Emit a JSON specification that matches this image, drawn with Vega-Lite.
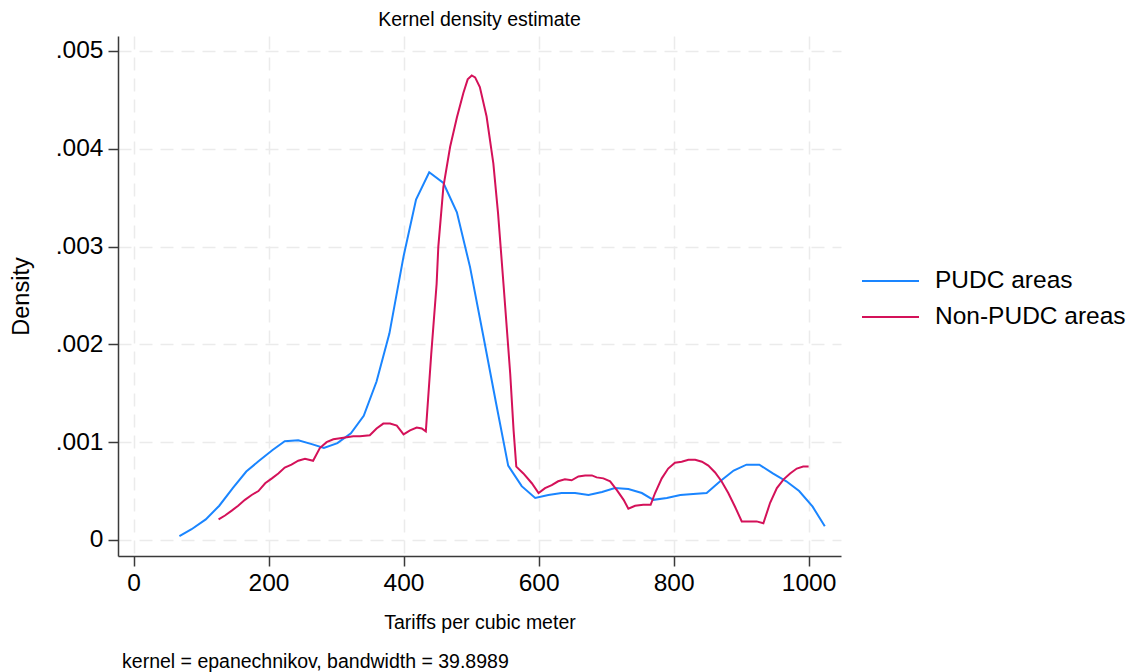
{
  "$schema": "https://vega.github.io/schema/vega-lite/v6.json",
  "width": 723,
  "height": 520,
  "autosize": {"type": "none"},
  "padding": {"left": 118, "top": 36, "right": 297, "bottom": 116},
  "background": "white",
  "config": {
    "font": "Liberation Sans",
    "view": {"stroke": null},
    "axis": {
      "domainColor": "#3a3a3a",
      "domainWidth": 1.5,
      "tickColor": "#3a3a3a",
      "tickWidth": 1.5,
      "tickSize": 10,
      "labelColor": "black",
      "titleColor": "black",
      "titleFontWeight": "normal",
      "gridColor": "#ebebeb",
      "gridWidth": 1.5,
      "gridDash": [13, 8]
    }
  },
  "title": {
    "text": "Kernel density estimate",
    "fontSize": 19.5,
    "fontWeight": "normal",
    "color": "black",
    "anchor": "middle",
    "frame": "group",
    "offset": 6
  },
  "layer": [
    {
      "data": {
        "values": [
          {"x": 68, "density": 0.00004, "group": "PUDC areas"},
          {"x": 86, "density": 0.00011, "group": "PUDC areas"},
          {"x": 107, "density": 0.00021, "group": "PUDC areas"},
          {"x": 127, "density": 0.00035, "group": "PUDC areas"},
          {"x": 147, "density": 0.00053, "group": "PUDC areas"},
          {"x": 167, "density": 0.0007, "group": "PUDC areas"},
          {"x": 186, "density": 0.00081, "group": "PUDC areas"},
          {"x": 206, "density": 0.00092, "group": "PUDC areas"},
          {"x": 224, "density": 0.00101, "group": "PUDC areas"},
          {"x": 244, "density": 0.00102, "group": "PUDC areas"},
          {"x": 264, "density": 0.00098, "group": "PUDC areas"},
          {"x": 282, "density": 0.00094, "group": "PUDC areas"},
          {"x": 302, "density": 0.00099, "group": "PUDC areas"},
          {"x": 322, "density": 0.00109, "group": "PUDC areas"},
          {"x": 341, "density": 0.00127, "group": "PUDC areas"},
          {"x": 360, "density": 0.00162, "group": "PUDC areas"},
          {"x": 379, "density": 0.00211, "group": "PUDC areas"},
          {"x": 400, "density": 0.0029, "group": "PUDC areas"},
          {"x": 418.5, "density": 0.00348, "group": "PUDC areas"},
          {"x": 438, "density": 0.00376, "group": "PUDC areas"},
          {"x": 459, "density": 0.00365, "group": "PUDC areas"},
          {"x": 479, "density": 0.00335, "group": "PUDC areas"},
          {"x": 498.5, "density": 0.00279, "group": "PUDC areas"},
          {"x": 518, "density": 0.00209, "group": "PUDC areas"},
          {"x": 537, "density": 0.0014, "group": "PUDC areas"},
          {"x": 555, "density": 0.00076, "group": "PUDC areas"},
          {"x": 575, "density": 0.00055, "group": "PUDC areas"},
          {"x": 595, "density": 0.00043, "group": "PUDC areas"},
          {"x": 614.5, "density": 0.00046, "group": "PUDC areas"},
          {"x": 634, "density": 0.00048, "group": "PUDC areas"},
          {"x": 654, "density": 0.00048, "group": "PUDC areas"},
          {"x": 674, "density": 0.00046, "group": "PUDC areas"},
          {"x": 694, "density": 0.00049, "group": "PUDC areas"},
          {"x": 713, "density": 0.00053, "group": "PUDC areas"},
          {"x": 733, "density": 0.00052, "group": "PUDC areas"},
          {"x": 753, "density": 0.00048, "group": "PUDC areas"},
          {"x": 770, "density": 0.00041, "group": "PUDC areas"},
          {"x": 790, "density": 0.00043, "group": "PUDC areas"},
          {"x": 810, "density": 0.00046, "group": "PUDC areas"},
          {"x": 829, "density": 0.00047, "group": "PUDC areas"},
          {"x": 849, "density": 0.00048, "group": "PUDC areas"},
          {"x": 869, "density": 0.0006, "group": "PUDC areas"},
          {"x": 889, "density": 0.00071, "group": "PUDC areas"},
          {"x": 908, "density": 0.00077, "group": "PUDC areas"},
          {"x": 927, "density": 0.00077, "group": "PUDC areas"},
          {"x": 947, "density": 0.00068, "group": "PUDC areas"},
          {"x": 967, "density": 0.0006, "group": "PUDC areas"},
          {"x": 986, "density": 0.0005, "group": "PUDC areas"},
          {"x": 1006, "density": 0.00034, "group": "PUDC areas"},
          {"x": 1024, "density": 0.00014, "group": "PUDC areas"},
          {"x": 126, "density": 0.00021, "group": "Non-PUDC areas"},
          {"x": 135.5, "density": 0.00025, "group": "Non-PUDC areas"},
          {"x": 145.5, "density": 0.0003, "group": "Non-PUDC areas"},
          {"x": 155, "density": 0.00035, "group": "Non-PUDC areas"},
          {"x": 165, "density": 0.00041, "group": "Non-PUDC areas"},
          {"x": 175, "density": 0.00046, "group": "Non-PUDC areas"},
          {"x": 185, "density": 0.0005, "group": "Non-PUDC areas"},
          {"x": 195, "density": 0.00058, "group": "Non-PUDC areas"},
          {"x": 205, "density": 0.00063, "group": "Non-PUDC areas"},
          {"x": 214.5, "density": 0.00068, "group": "Non-PUDC areas"},
          {"x": 224, "density": 0.00074, "group": "Non-PUDC areas"},
          {"x": 234, "density": 0.00077, "group": "Non-PUDC areas"},
          {"x": 244, "density": 0.00081, "group": "Non-PUDC areas"},
          {"x": 254, "density": 0.00083, "group": "Non-PUDC areas"},
          {"x": 266, "density": 0.00081, "group": "Non-PUDC areas"},
          {"x": 276, "density": 0.00094, "group": "Non-PUDC areas"},
          {"x": 286, "density": 0.001, "group": "Non-PUDC areas"},
          {"x": 296, "density": 0.00103, "group": "Non-PUDC areas"},
          {"x": 306, "density": 0.00104, "group": "Non-PUDC areas"},
          {"x": 316, "density": 0.00105, "group": "Non-PUDC areas"},
          {"x": 325.5, "density": 0.00106, "group": "Non-PUDC areas"},
          {"x": 335.5, "density": 0.00106, "group": "Non-PUDC areas"},
          {"x": 350, "density": 0.00107, "group": "Non-PUDC areas"},
          {"x": 360, "density": 0.00114, "group": "Non-PUDC areas"},
          {"x": 370, "density": 0.00119, "group": "Non-PUDC areas"},
          {"x": 380, "density": 0.00119, "group": "Non-PUDC areas"},
          {"x": 390, "density": 0.00117, "group": "Non-PUDC areas"},
          {"x": 400, "density": 0.00108, "group": "Non-PUDC areas"},
          {"x": 409.6, "density": 0.00112, "group": "Non-PUDC areas"},
          {"x": 419.5, "density": 0.00115, "group": "Non-PUDC areas"},
          {"x": 427, "density": 0.00114, "group": "Non-PUDC areas"},
          {"x": 433, "density": 0.00111, "group": "Non-PUDC areas"},
          {"x": 441, "density": 0.0019, "group": "Non-PUDC areas"},
          {"x": 449, "density": 0.00262, "group": "Non-PUDC areas"},
          {"x": 451.5, "density": 0.003, "group": "Non-PUDC areas"},
          {"x": 459, "density": 0.00361, "group": "Non-PUDC areas"},
          {"x": 469, "density": 0.00402, "group": "Non-PUDC areas"},
          {"x": 479, "density": 0.00432, "group": "Non-PUDC areas"},
          {"x": 488.6, "density": 0.00457, "group": "Non-PUDC areas"},
          {"x": 495, "density": 0.00471, "group": "Non-PUDC areas"},
          {"x": 501, "density": 0.00475, "group": "Non-PUDC areas"},
          {"x": 506, "density": 0.00473, "group": "Non-PUDC areas"},
          {"x": 513, "density": 0.00463, "group": "Non-PUDC areas"},
          {"x": 523, "density": 0.00433, "group": "Non-PUDC areas"},
          {"x": 533, "density": 0.00385, "group": "Non-PUDC areas"},
          {"x": 540, "density": 0.00334, "group": "Non-PUDC areas"},
          {"x": 548, "density": 0.00262, "group": "Non-PUDC areas"},
          {"x": 558, "density": 0.0017, "group": "Non-PUDC areas"},
          {"x": 563, "density": 0.00112, "group": "Non-PUDC areas"},
          {"x": 567, "density": 0.00075, "group": "Non-PUDC areas"},
          {"x": 577.5, "density": 0.00068, "group": "Non-PUDC areas"},
          {"x": 590, "density": 0.00058, "group": "Non-PUDC areas"},
          {"x": 600, "density": 0.00048, "group": "Non-PUDC areas"},
          {"x": 609.6, "density": 0.00053, "group": "Non-PUDC areas"},
          {"x": 619.5, "density": 0.00056, "group": "Non-PUDC areas"},
          {"x": 629, "density": 0.0006, "group": "Non-PUDC areas"},
          {"x": 639, "density": 0.00062, "group": "Non-PUDC areas"},
          {"x": 649, "density": 0.00061, "group": "Non-PUDC areas"},
          {"x": 659, "density": 0.00065, "group": "Non-PUDC areas"},
          {"x": 669, "density": 0.00066, "group": "Non-PUDC areas"},
          {"x": 679, "density": 0.00066, "group": "Non-PUDC areas"},
          {"x": 686, "density": 0.00064, "group": "Non-PUDC areas"},
          {"x": 696, "density": 0.00063, "group": "Non-PUDC areas"},
          {"x": 706, "density": 0.0006, "group": "Non-PUDC areas"},
          {"x": 716, "density": 0.00051, "group": "Non-PUDC areas"},
          {"x": 726, "density": 0.00041, "group": "Non-PUDC areas"},
          {"x": 733, "density": 0.00032, "group": "Non-PUDC areas"},
          {"x": 743, "density": 0.00035, "group": "Non-PUDC areas"},
          {"x": 755, "density": 0.00036, "group": "Non-PUDC areas"},
          {"x": 766, "density": 0.00036, "group": "Non-PUDC areas"},
          {"x": 772.6, "density": 0.00048, "group": "Non-PUDC areas"},
          {"x": 782.5, "density": 0.00063, "group": "Non-PUDC areas"},
          {"x": 792, "density": 0.00073, "group": "Non-PUDC areas"},
          {"x": 802, "density": 0.00079, "group": "Non-PUDC areas"},
          {"x": 812, "density": 0.0008, "group": "Non-PUDC areas"},
          {"x": 822, "density": 0.00082, "group": "Non-PUDC areas"},
          {"x": 832, "density": 0.00082, "group": "Non-PUDC areas"},
          {"x": 842, "density": 0.0008, "group": "Non-PUDC areas"},
          {"x": 851.5, "density": 0.00076, "group": "Non-PUDC areas"},
          {"x": 861.5, "density": 0.00069, "group": "Non-PUDC areas"},
          {"x": 871, "density": 0.0006, "group": "Non-PUDC areas"},
          {"x": 881, "density": 0.00048, "group": "Non-PUDC areas"},
          {"x": 891, "density": 0.00034, "group": "Non-PUDC areas"},
          {"x": 901, "density": 0.00019, "group": "Non-PUDC areas"},
          {"x": 911, "density": 0.00019, "group": "Non-PUDC areas"},
          {"x": 923, "density": 0.00019, "group": "Non-PUDC areas"},
          {"x": 933, "density": 0.00017, "group": "Non-PUDC areas"},
          {"x": 943, "density": 0.00038, "group": "Non-PUDC areas"},
          {"x": 953, "density": 0.00053, "group": "Non-PUDC areas"},
          {"x": 963, "density": 0.00062, "group": "Non-PUDC areas"},
          {"x": 972.6, "density": 0.00068, "group": "Non-PUDC areas"},
          {"x": 982.5, "density": 0.00073, "group": "Non-PUDC areas"},
          {"x": 992, "density": 0.00075, "group": "Non-PUDC areas"},
          {"x": 1000, "density": 0.00075, "group": "Non-PUDC areas"}
        ]
      },
      "mark": {"type": "line", "strokeWidth": 2, "clip": true},
      "encoding": {
        "x": {
          "field": "x",
          "type": "quantitative",
          "scale": {"domain": [-23, 1048], "nice": false, "zero": false},
          "axis": {
            "values": [0, 200, 400, 600, 800, 1000],
            "format": "d",
            "labelFontSize": 24.5,
            "labelPadding": 5,
            "title": "Tariffs per cubic meter",
            "titleFontSize": 19.5,
            "titlePadding": 19
          }
        },
        "y": {
          "field": "density",
          "type": "quantitative",
          "scale": {"domain": [-0.000164, 0.005153], "nice": false, "zero": false},
          "axis": {
            "values": [0, 0.001, 0.002, 0.003, 0.004, 0.005],
            "labelExpr": "datum.value == 0 ? '0' : replace(format(datum.value, '.3f'), '0.', '.')",
            "labelFontSize": 24.5,
            "labelPadding": 5,
            "title": "Density",
            "titleFontSize": 23.5,
            "titlePadding": 22
          }
        },
        "color": {
          "field": "group",
          "type": "nominal",
          "sort": ["PUDC areas", "Non-PUDC areas"],
          "scale": {"domain": ["PUDC areas", "Non-PUDC areas"], "range": ["#1a85ff", "#d41159"]},
          "legend": {
            "title": null,
            "orient": "none",
            "legendX": 743,
            "legendY": 233,
            "symbolType": "stroke",
            "symbolSize": 3249,
            "symbolStrokeWidth": 2,
            "clipHeight": 24,
            "labelFontSize": 24.5,
            "labelColor": "black",
            "labelLimit": 400,
            "labelOffset": 15,
            "rowPadding": 11,
            "padding": 0
          }
        }
      }
    },
    {
      "data": {"values": [{"note": "kernel = epanechnikov, bandwidth = 39.8989"}]},
      "mark": {"type": "text", "align": "left", "baseline": "middle", "fontSize": 19.5, "color": "black"},
      "encoding": {
        "text": {"field": "note"},
        "x": {"datum": -17},
        "y": {"datum": -0.001247}
      }
    }
  ]
}
